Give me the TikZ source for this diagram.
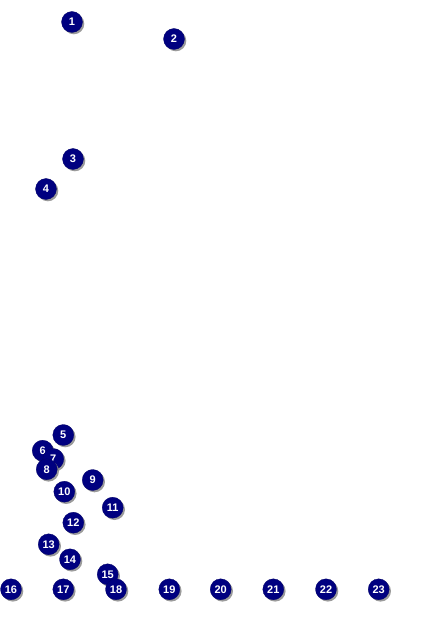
\documentclass[tikz,border=0pt]{standalone}
\usepackage{fontspec}
\setmainfont{Liberation Sans}
\usetikzlibrary{shadows}
\definecolor{ballblue}{HTML}{000080}
\definecolor{ballshadow}{HTML}{8A8A8A}
\tikzset{
  ball/.style={circle, fill=ballblue, draw=ballblue!80!black, line width=0.3pt,
    minimum size=21pt, inner sep=0pt, text=white,
    font=\fontsize{11}{11}\selectfont\bfseries,
    drop shadow={shadow xshift=1.8pt, shadow yshift=-1.8pt, fill=ballshadow, opacity=0.85}}
}
\begin{document}
\begin{tikzpicture}[x=1pt,y=-1pt]
\useasboundingbox (0,0) rectangle (424,636);
\node[ball] (n1) at (72,22) {1};
\node[ball] (n2) at (174,39) {2};
\node[ball] (n3) at (73,159) {3};
\node[ball] (n4) at (46,189) {4};
\node[ball] (n5) at (63.3,435) {5};
\node[ball] (n6) at (42.7,450.7) {6};
\node[ball] (n7) at (53.3,459) {7};
\node[ball] (n8) at (46.7,469.3) {8};
\node[ball] (n9) at (92.7,480) {9};
\node[ball] (n10) at (64.3,491.7) {10};
\node[ball] (n11) at (112.7,507.7) {11};
\node[ball] (n12) at (73.3,522.7) {12};
\node[ball] (n13) at (48.7,544.3) {13};
\node[ball] (n14) at (70,559.3) {14};
\node[ball] (n15) at (107.7,574.3) {15};
\node[ball] (n16) at (11,589.3) {16};
\node[ball] (n17) at (63.3,589.3) {17};
\node[ball] (n18) at (116,589.3) {18};
\node[ball] (n19) at (169.3,589.3) {19};
\node[ball] (n20) at (220.7,589.3) {20};
\node[ball] (n21) at (273.3,589.3) {21};
\node[ball] (n22) at (326,589.3) {22};
\node[ball] (n23) at (378.7,589.3) {23};
\end{tikzpicture}
\end{document}
